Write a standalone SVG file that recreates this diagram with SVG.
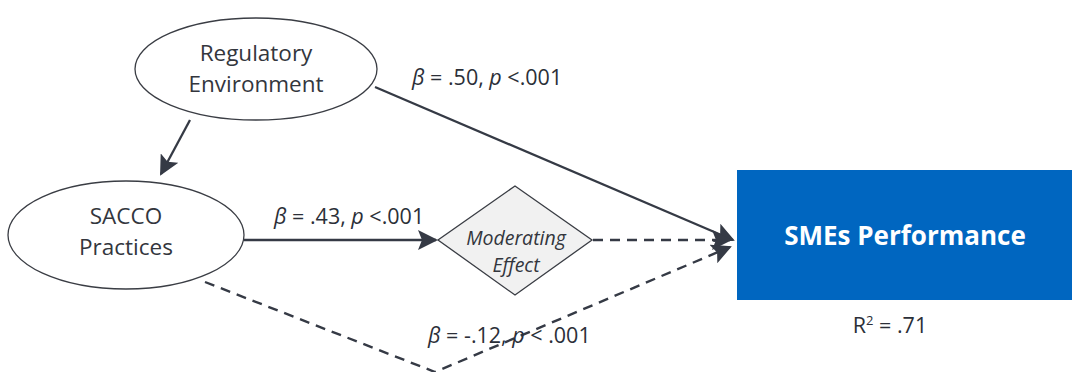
<svg xmlns="http://www.w3.org/2000/svg" width="1072" height="372" viewBox="0 0 1072 372">
<style>
.lbl{font-family:"Open Sans","Liberation Sans",sans-serif;fill:#2b2f38}
.node{font-family:"Open Sans","Liberation Sans",sans-serif;fill:#33363d;font-size:22.5px;text-anchor:middle}
.mod{font-family:"Open Sans","Liberation Sans",sans-serif;fill:#33363d;font-size:19.5px;font-style:italic;text-anchor:middle}
.ell{fill:#fff;stroke:#3a3d44;stroke-width:1.3}
.ln{fill:none;stroke:#353a45;stroke-width:2.3}
.dash{fill:none;stroke:#353a45;stroke-width:2.4;stroke-dasharray:10 7}
.it{font-style:italic}
</style>
<defs>
<marker id="ahL" viewBox="0 0 10 10" refX="9" refY="5" markerWidth="20" markerHeight="20" markerUnits="userSpaceOnUse" orient="auto">
<path d="M0,0 L10,5 L0,10 L2,5 Z" fill="#353a45"/>
</marker>
</defs>
<rect width="1072" height="372" fill="#fff"/>
<g id="connectors">
<line class="ln" x1="190" y1="120" x2="161" y2="174" marker-end="url(#ahL)"/>
<line class="ln" x1="244" y1="240" x2="436" y2="240" marker-end="url(#ahL)"/>
<line class="ln" x1="375" y1="87" x2="733" y2="240" marker-end="url(#ahL)"/>
<line class="dash" x1="593" y1="240" x2="730" y2="240" marker-end="url(#ahL)"/>
<polyline class="dash" points="205,282 435,372 730,247" marker-end="url(#ahL)"/>
</g>
<g id="regulatory">
<ellipse class="ell" cx="256" cy="69" rx="121" ry="51"/>
<text class="node" x="256" y="61">Regulatory</text>
<text class="node" x="256" y="92">Environment</text>
</g>
<g id="sacco">
<ellipse class="ell" cx="126" cy="235" rx="118" ry="54"/>
<text class="node" x="126" y="224">SACCO</text>
<text class="node" x="126" y="255">Practices</text>
</g>
<g id="moderating">
<polygon points="515,186 592,240 515,295 438,240" fill="#f1f1f1" stroke="#3a3d44" stroke-width="1.3"/>
<text class="mod" x="516" y="245">Moderating</text>
<text class="mod" x="516" y="272">Effect</text>
</g>
<g id="smes">
<rect x="737" y="170" width="335" height="130" fill="#0066c0"/>
<text x="905" y="245" text-anchor="middle" font-family="Open Sans,Liberation Sans,sans-serif" font-weight="bold" font-size="26" fill="#fff">SMEs Performance</text>
</g>
<g id="labels">
<text class="lbl" x="412" y="85" font-size="21.5"><tspan class="it">β</tspan> = .50, <tspan class="it">p</tspan> &lt;.001</text>
<text class="lbl" x="274" y="224" font-size="21.5"><tspan class="it">β</tspan> = .43, <tspan class="it">p</tspan> &lt;.001</text>
<text class="lbl" x="428" y="343" font-size="21.5"><tspan class="it">β</tspan> = -.12, <tspan class="it">p</tspan> &lt; .001</text>
<text class="lbl" x="890" y="333" font-size="21.5" text-anchor="middle">R<tspan dy="-8" font-size="13">2</tspan><tspan dy="8"> = .71</tspan></text>
</g>
</svg>
